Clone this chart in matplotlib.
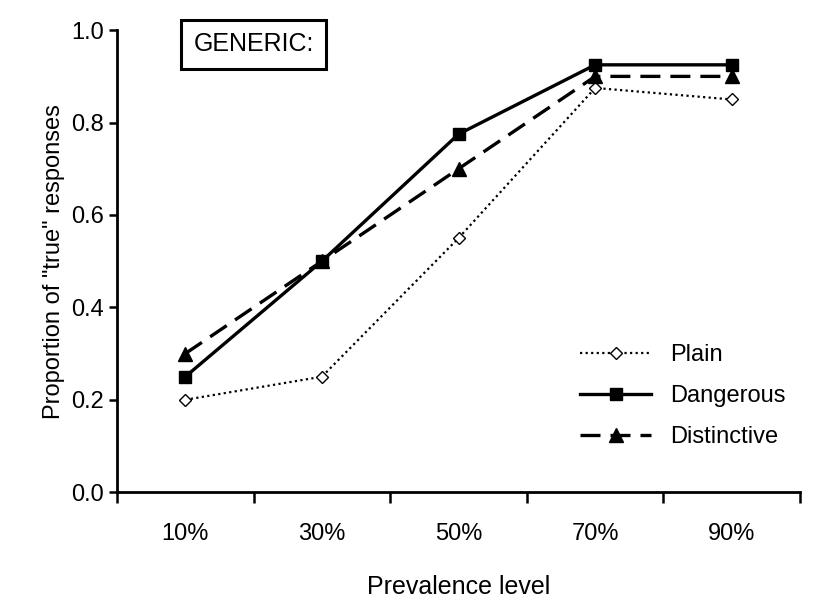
import numpy as np
import matplotlib.pyplot as plt

plt.rcParams['font.family'] = ['Liberation Sans', 'DejaVu Sans']

levels = ["10%", "30%", "50%", "70%", "90%"]
plain = [0.20, 0.25, 0.55, 0.875, 0.85]
dangerous = [0.25, 0.50, 0.775, 0.925, 0.925]
distinctive = [0.30, 0.50, 0.70, 0.90, 0.90]

fig = plt.figure(figsize=(8.24, 6.16), dpi=100)
ax = fig.add_axes([0.142, 0.201, 0.829, 0.75])
x = np.arange(len(levels))

ax.plot(x, plain, color="black", linestyle=(0, (1, 1.5)), lw=1.6, marker="D",
        markersize=6, markerfacecolor="white", markeredgecolor="black", label="Plain")
ax.plot(x, dangerous, color="black", lw=2.4, marker="s", markersize=9, label="Dangerous")
ax.plot(x, distinctive, color="black", lw=2.4, linestyle=(0, (6, 3)), marker="^",
        markersize=10, label="Distinctive")

ax.set_xlim(-0.5, 4.5)
ax.set_ylim(0, 1.0)
ax.set_yticks(np.arange(0, 1.01, 0.2))
ax.set_yticklabels([f"{v:.1f}" for v in np.arange(0, 1.01, 0.2)], fontsize=17)
ax.set_xticks(np.arange(-0.5, 4.6, 1))
ax.set_xticklabels([])
ax.set_xticks(x, minor=True)
ax.set_xticklabels(levels, minor=True, fontsize=17)
ax.tick_params(axis="x", which="minor", length=0, pad=22)
ax.tick_params(axis="x", which="major", length=8, width=1.8)
ax.tick_params(axis="y", length=6, width=1.8)
for s in ["top", "right"]:
    ax.spines[s].set_visible(False)
for s in ["left", "bottom"]:
    ax.spines[s].set_linewidth(2)

ax.set_ylabel('Proportion of "true" responses', fontsize=17)
ax.set_xlabel("Prevalence level", fontsize=18, labelpad=22)

ax.text(0.2, 0.5*(1.0+0.93)+0.005, "GENERIC:", transform=ax.get_yaxis_transform(),
        fontsize=18, va="center", ha="center",
        bbox=dict(boxstyle="square,pad=0.5", facecolor="white", edgecolor="black", lw=2.2))

ax.legend(loc="lower right", bbox_to_anchor=(1.01, 0.05), frameon=False, fontsize=17,
          handlelength=3, labelspacing=0.8)

fig.savefig("out.png")
